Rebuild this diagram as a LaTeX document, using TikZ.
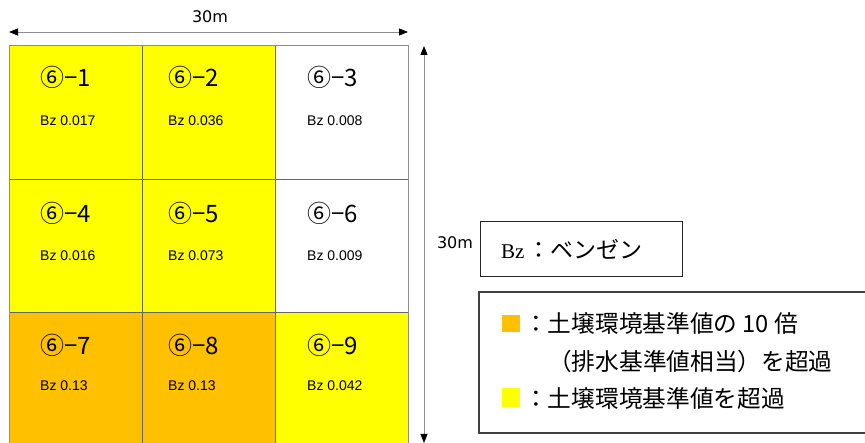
\documentclass[tikz,border=0pt]{standalone}
\usepackage{fontspec}
\setmainfont{Liberation Serif}
\newfontfamily\cjk{Noto Sans CJK JP}
\newfontfamily\arialf{Liberation Sans}
\newfontfamily\dvs{DejaVu Sans}
\usetikzlibrary{arrows.meta}
\definecolor{yel}{HTML}{FFFF00}
\definecolor{ora}{HTML}{FFC000}
\tikzset{
  cellbox/.style={draw=black!60, line width=0.9pt},
  cid/.style={anchor=west, inner sep=0pt, font=\cjk\fontsize{24}{24}\selectfont},
  cval/.style={anchor=west, inner sep=0pt, font=\arialf\fontsize{14}{14}\selectfont},
  dim/.style={draw=black!45, line width=0.9pt, {Triangle[length=9pt,width=7pt,color=black]}-{Triangle[length=9pt,width=7pt,color=black]}},
  dimlbl/.style={inner sep=0pt, font=\dvs\fontsize{16}{16}\selectfont},
  legtxt/.style={anchor=west, inner sep=0pt, font=\cjk\fontsize{23.7}{23.7}\selectfont},
}
\begin{document}
\begin{tikzpicture}[x=1pt,y=-1pt]
\useasboundingbox (0,0) rectangle (865,443);
% cells
\path[fill=yel] (9,46) rectangle (142,179);
\path[fill=yel] (142,46) rectangle (275,179);
\path[fill=white] (275,46) rectangle (408,179);
\path[fill=yel] (9,179) rectangle (142,312);
\path[fill=yel] (142,179) rectangle (275,312);
\path[fill=white] (275,179) rectangle (408,312);
\path[fill=ora] (9,312) rectangle (142,445);
\path[fill=ora] (142,312) rectangle (275,445);
\path[fill=yel] (275,312) rectangle (408,445);
\draw[cellbox] (142,46) -- (142,445) (275,46) -- (275,445)
  (9,179) -- (408,179) (9,312) -- (408,312);
\draw[draw=black!45, line width=1pt] (9,445) -- (9,46) -- (408,46) -- (408,445);
% labels
\node[cid] (n1) at (40,77) {⑥−1};
\node[cval] (v1) at (40,121) {Bz 0.017};
\node[cid] (n2) at (168,77) {⑥−2};
\node[cval] (v2) at (168,121) {Bz 0.036};
\node[cid] (n3) at (307,77) {⑥−3};
\node[cval] (v3) at (307,121) {Bz 0.008};
\node[cid] (n4) at (40,213) {⑥−4};
\node[cval] (v4) at (40,256) {Bz 0.016};
\node[cid] (n5) at (168,213) {⑥−5};
\node[cval] (v5) at (168,256) {Bz 0.073};
\node[cid] (n6) at (307,213) {⑥−6};
\node[cval] (v6) at (307,256) {Bz 0.009};
\node[cid] (n7) at (40,345) {⑥−7};
\node[cval] (v7) at (40,386) {Bz 0.13};
\node[cid] (n8) at (168,345) {⑥−8};
\node[cval] (v8) at (168,386) {Bz 0.13};
\node[cid] (n9) at (307,345) {⑥−9};
\node[cval] (v9) at (307,386) {Bz 0.042};
% dimensions
\coordinate (hl) at (9,32);
\coordinate (hr) at (408,32);
\draw[dim] (hl) -- (hr);
\node[dimlbl] (htxt) at (210,17) {30m};
\coordinate (vt) at (424,46);
\coordinate (vb) at (424,443);
\draw[dim] (vt) -- (vb);
\node[dimlbl] (vtxt) at (455,243) {30m};
% Bz box
\draw[line width=1pt, draw=black!85] (480,222) rectangle (682,277);
\node[anchor=west, inner sep=0pt] (bz) at (501,249) {\fontsize{21}{21}\selectfont Bz\hspace{3pt}{\cjk\fontsize{23}{23}\selectfont ：ベンゼン}};
% legend
\draw[line width=1.5pt, draw=black!75] (479,292) rectangle (868,433);
\path[fill=ora] (502,315) rectangle (520,332);
\path[fill=yel] (502,388) rectangle (520,407);
\node[legtxt] (l1) at (524,323) {：土壌環境基準値の 10 倍};
\node[legtxt] (l2) at (548,361) {（排水基準値相当）を超過};
\node[legtxt] (l3) at (524,398) {：土壌環境基準値を超過};
\end{tikzpicture}
\end{document}
